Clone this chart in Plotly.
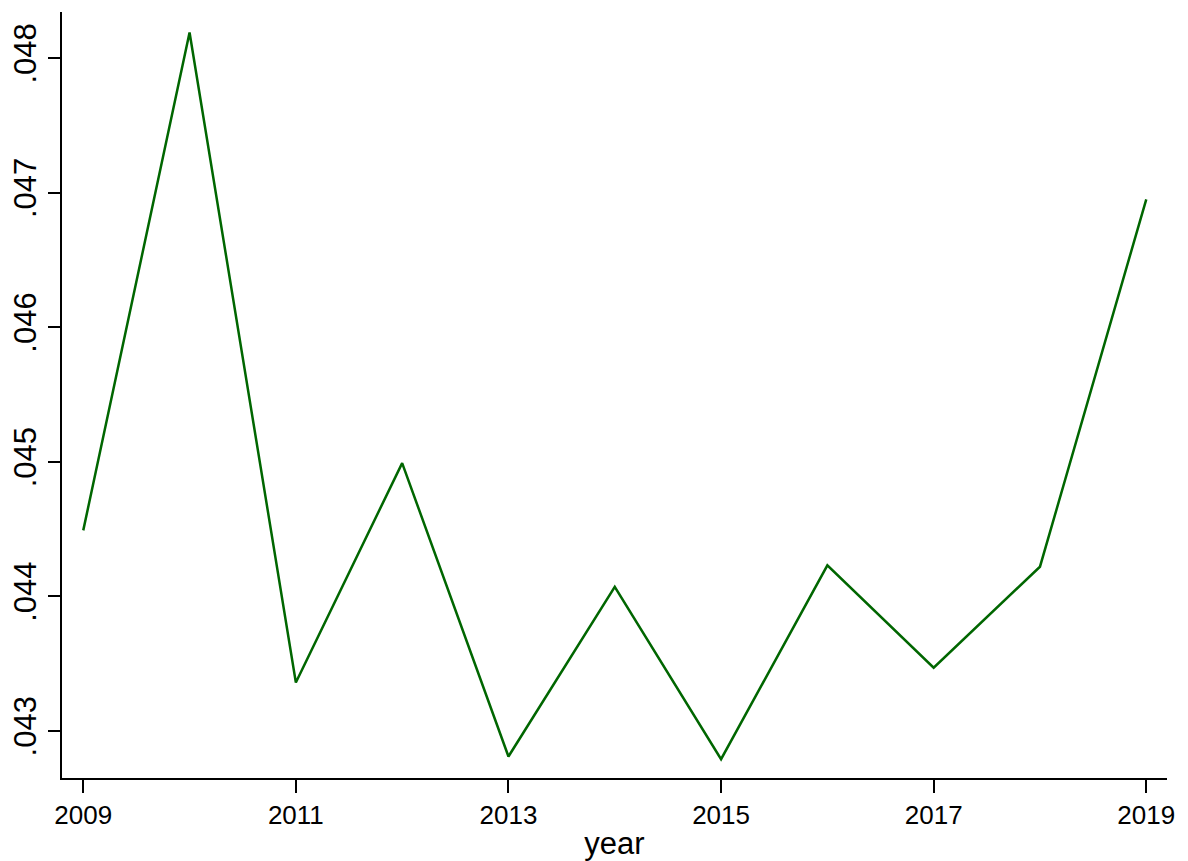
import plotly.graph_objects as go

years = [2009, 2010, 2011, 2012, 2013, 2014, 2015, 2016, 2017, 2018, 2019]
values = [0.04449, 0.04819, 0.04336, 0.04499, 0.04281, 0.04407, 0.04279, 0.04423, 0.04347, 0.04422, 0.04695]

x_tickvals = [2009, 2011, 2013, 2015, 2017, 2019]
x_ticktext = ["2009", "2011", "2013", "2015", "2017", "2019"]
y_tickvals = [0.043, 0.044, 0.045, 0.046, 0.047, 0.048]
y_ticktext = [".043", ".044", ".045", ".046", ".047", ".048"]

fig = go.Figure()
fig.add_trace(go.Scatter(
    x=years, y=values, mode="lines",
    line=dict(color="#006600", width=2.5),
    showlegend=False, hoverinfo="skip",
))

font_family = "Liberation Sans, Arial, sans-serif"

fig.update_layout(
    width=1188, height=861,
    margin=dict(l=62, r=21, t=12, b=83),
    paper_bgcolor="white", plot_bgcolor="white",
    font=dict(family=font_family, color="black"),
    xaxis=dict(
        range=[2008.8, 2019.195],
        tickvals=x_tickvals, ticktext=x_ticktext,
        showgrid=False, zeroline=False, automargin=False,
        showline=True, linecolor="black", linewidth=1.5,
        ticks="outside", ticklen=13, tickwidth=1.5, tickcolor="black",
        tickfont=dict(size=26, family=font_family, color="black"),
        title=dict(text="year", font=dict(size=31, family=font_family, color="black"), standoff=4),
    ),
    yaxis=dict(
        range=[0.04265, 0.048342],
        tickvals=y_tickvals, ticktext=y_ticktext,
        showgrid=False, zeroline=False, automargin=False,
        showline=True, linecolor="black", linewidth=1.5,
        ticks="outside", ticklen=12, tickwidth=1.5, tickcolor="black",
        tickangle=-90,
        tickfont=dict(size=31, family=font_family, color="black"),
    ),
)

fig.write_html("out.html")
